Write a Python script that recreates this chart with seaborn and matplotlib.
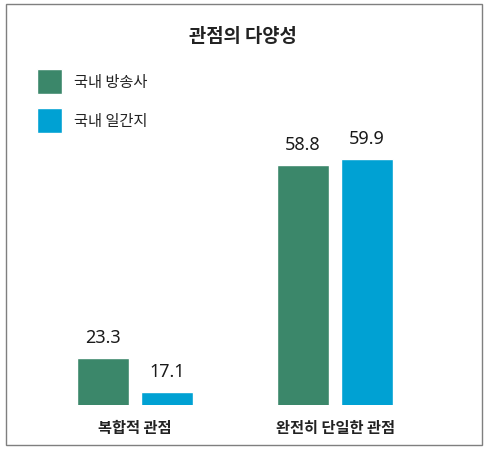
import matplotlib
matplotlib.use("Agg")
import matplotlib.pyplot as plt
import seaborn as sns
import pandas as pd
from matplotlib.patches import Rectangle

categories = ["복합적 관점", "완전히 단일한 관점"]
series = ["국내 방송사", "국내 일간지"]
broadcast = [23.3, 58.8]
daily = [17.1, 59.9]
colors = ["#3b876a", "#00a1d3"]

df = pd.DataFrame({
    "category": categories * 2,
    "series": [series[0]] * 2 + [series[1]] * 2,
    "value": broadcast + daily,
})

sns.set_theme(style="white")
plt.rcParams["font.family"] = ["Noto Sans CJK KR", "DejaVu Sans"]

W, H = 491, 452
fig = plt.figure(figsize=(W / 100, H / 100), dpi=100)
fig.patch.set_facecolor("white")

# axes in pixel geometry
ax_left, ax_right = 6, 482
ax_bottom_px, ax_top_px = 405.7, 50
ax = fig.add_axes([ax_left / W, (H - ax_bottom_px) / H,
                   (ax_right - ax_left) / W, (ax_bottom_px - ax_top_px) / H])

sns.barplot(data=df, x="category", y="value", hue="series", order=categories,
            hue_order=series, palette=colors, width=0.64, gap=0.1875,
            saturation=1, ax=ax, legend=True)

# scale
ppu = 200.0  # pixels per category unit
x0px = 135.0
ax.set_xlim(-(x0px - ax_left) / ppu, (ax_right - x0px) / ppu)
slope = 5.44
ybase = 14.72
ax.set_ylim(ybase, ybase + (ax_bottom_px - ax_top_px) / slope)

for c in ax.containers:
    for bar in c:
        h = bar.get_height()
        ax.annotate(f"{h:.1f}", (bar.get_x() + bar.get_width() / 2, h),
                    xytext=(0, 15.2), textcoords="offset points",
                    ha="center", va="center", fontsize=13, fontweight="medium",
                    family=["Noto Sans", "DejaVu Sans"], color="#1a1a1a")

for s in ax.spines.values():
    s.set_visible(False)
ax.set_yticks([])
ax.set_xlabel("")
ax.set_ylabel("")
ax.tick_params(axis="x", length=0, pad=10.2, labelsize=11, colors="#222222")
for t in ax.get_xticklabels():
    t.set_fontweight("bold")
ax.patch.set_alpha(0)

handles, labels = ax.get_legend_handles_labels()
fs = 11
fpx = fs * 100 / 72
hh = (25 / fpx - 0.245) / 0.65
ax.legend(handles, labels, loc="upper left",
          bbox_to_anchor=(37 / W, 1 - 70 / H), bbox_transform=fig.transFigure,
          frameon=False, borderpad=0, borderaxespad=0, fontsize=fs,
          handlelength=25 / fpx, handleheight=hh,
          handletextpad=12 / fpx, labelspacing=14 / fpx,
          labelcolor="#222222")

fig.text(243 / W, 1 - 36 / H, "관점의 다양성", ha="center", va="center",
         fontsize=13.5, fontweight="bold", color="#222222")

fig.patches.append(Rectangle((6 / W, 1 - 446 / H), (482 - 6) / W, (446 - 5) / H,
                             transform=fig.transFigure, fill=False,
                             edgecolor="#7f7f7f", linewidth=1.0))

fig.savefig("out.png", dpi=100)
